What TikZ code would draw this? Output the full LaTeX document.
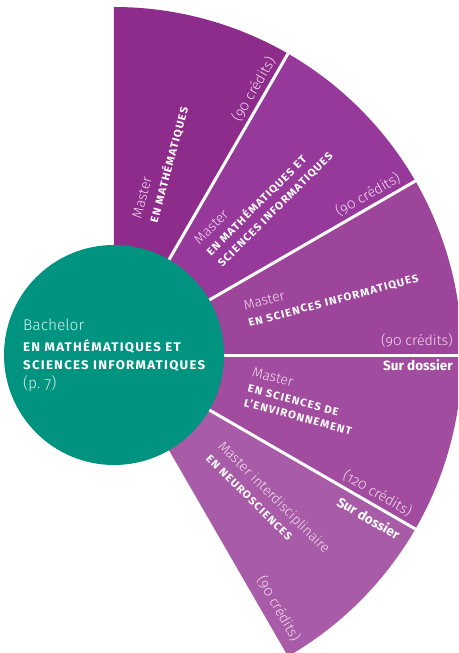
\documentclass[tikz,border=0pt]{standalone}
\usepackage{fontspec}
\setmainfont{Fira Sans}[Numbers=OldStyle]
\newfontfamily\lightf{Fira Sans Light}[Numbers=OldStyle]
\newfontfamily\capsf{Fira Sans}[LetterSpace=10,FakeStretch=1.06,Numbers=OldStyle]
\definecolor{sA}{HTML}{8E2C8B}
\definecolor{sB}{HTML}{96399A}
\definecolor{sC}{HTML}{9C459A}
\definecolor{sD}{HTML}{A14C9F}
\definecolor{sE}{HTML}{A85BA7}
\definecolor{tealc}{HTML}{00937F}
\definecolor{lightpink}{HTML}{F3DDF1}
\definecolor{lightteal}{HTML}{D9F0EB}
\tikzset{
  divider/.style={white,line width=3pt},
  rot/.style={rotate=#1,transform shape},
  master/.style={anchor=base west,inner sep=0pt,text=lightpink,font=\lightf\fontsize{14}{16}\selectfont},
  capsline/.style={anchor=base west,inner sep=0pt,text=white,font=\capsf\bfseries\fontsize{10.8}{12}\selectfont},
  credit/.style={anchor=base east,inner sep=0pt,text=lightpink,font=\lightf\fontsize{14.2}{16}\selectfont},
  dossier/.style={anchor=base east,inner sep=0pt,text=white,font=\bfseries\fontsize{13.5}{15}\selectfont},
  bachlight/.style={anchor=base west,inner sep=0pt,text=lightteal,font=\lightf\fontsize{15.5}{18}\selectfont},
  bachcaps/.style={anchor=base west,inner sep=0pt,text=white,font=\capsf\bfseries\fontsize{12.5}{14}\selectfont}
}
\begin{document}
\begin{tikzpicture}[x=1pt,y=1pt]
\useasboundingbox (-114,-298) rectangle (344,355);
\clip (-114,-298) rectangle (344,355);
% sectors
\fill[sA] (0,0) -- (90:348) arc[start angle=90,end angle=60,radius=348] -- cycle;
\fill[sB] (0,0) -- (60:348) arc[start angle=60,end angle=30,radius=348] -- cycle;
\fill[sC] (0,0) -- (30:348) arc[start angle=30,end angle=0,radius=348] -- cycle;
\fill[sD] (0,0) -- (0:348) arc[start angle=0,end angle=-30,radius=348] -- cycle;
\fill[sE] (0,0) -- (-30:348) arc[start angle=-30,end angle=-60,radius=348] -- cycle;
\foreach \a in {60,30,0,-30} \draw[divider] (0,0) -- (\a:348);
% bachelor circle
\fill[tealc] (0,0) circle[radius=110];
\node[bachlight] (b1) at (-91,24) {Bachelor};
\node[bachcaps] (b2) at (-91,4) {EN MATHÉMATIQUES ET};
\node[bachcaps] (b3) at (-91,-14) {SCIENCES INFORMATIQUES};
\node[bachlight] (b4) at (-91,-33) {(p.~7)};
% sector 1
\begin{scope}[rot=75]
\node[master] (m1) at (138,9) {Master};
\node[capsline] (t1) at (138,-8) {EN MATHÉMATIQUES};
\end{scope}
\begin{scope}[rot=60]
\node[credit] (c1) at (336,7) {(90 crédits)};
\end{scope}
% sector 2
\begin{scope}[rot=45]
\node[master] (m2) at (138,17) {Master};
\node[capsline] (t2a) at (138,1) {EN MATHÉMATIQUES ET};
\node[capsline] (t2b) at (138,-15) {SCIENCES INFORMATIQUES};
\end{scope}
\begin{scope}[rot=30]
\node[credit] (c2) at (336,7) {(90 crédits)};
\end{scope}
% sector 3
\begin{scope}[rot=15]
\node[master] (m3) at (138,9) {Master};
\node[capsline] (t3) at (138,-8) {EN SCIENCES INFORMATIQUES};
\end{scope}
\node[credit] (c3) at (339,10) {(90 crédits)};
\node[dossier] (d4) at (339,-15) {Sur dossier};
% sector 4
\begin{scope}[rot=-15]
\node[master] (m4) at (138,15) {Master};
\node[capsline] (t4a) at (138,-1) {EN SCIENCES DE};
\node[capsline] (t4b) at (138,-16) {L’ENVIRONNEMENT};
\end{scope}
\begin{scope}[rot=-30]
\node[credit] (c4) at (336,7) {(120 crédits)};
\node[dossier] (d5) at (337,-19) {Sur dossier};
\end{scope}
% sector 5
\begin{scope}[rot=-45]
\node[master] (m5) at (138,8) {Master interdisciplinaire};
\node[capsline] (t5) at (138,-9) {EN NEUROSCIENCES};
\end{scope}
\begin{scope}[rot=-60]
\node[credit] (c5) at (338,11) {(90 crédits)};
\end{scope}
\end{tikzpicture}
\end{document}
